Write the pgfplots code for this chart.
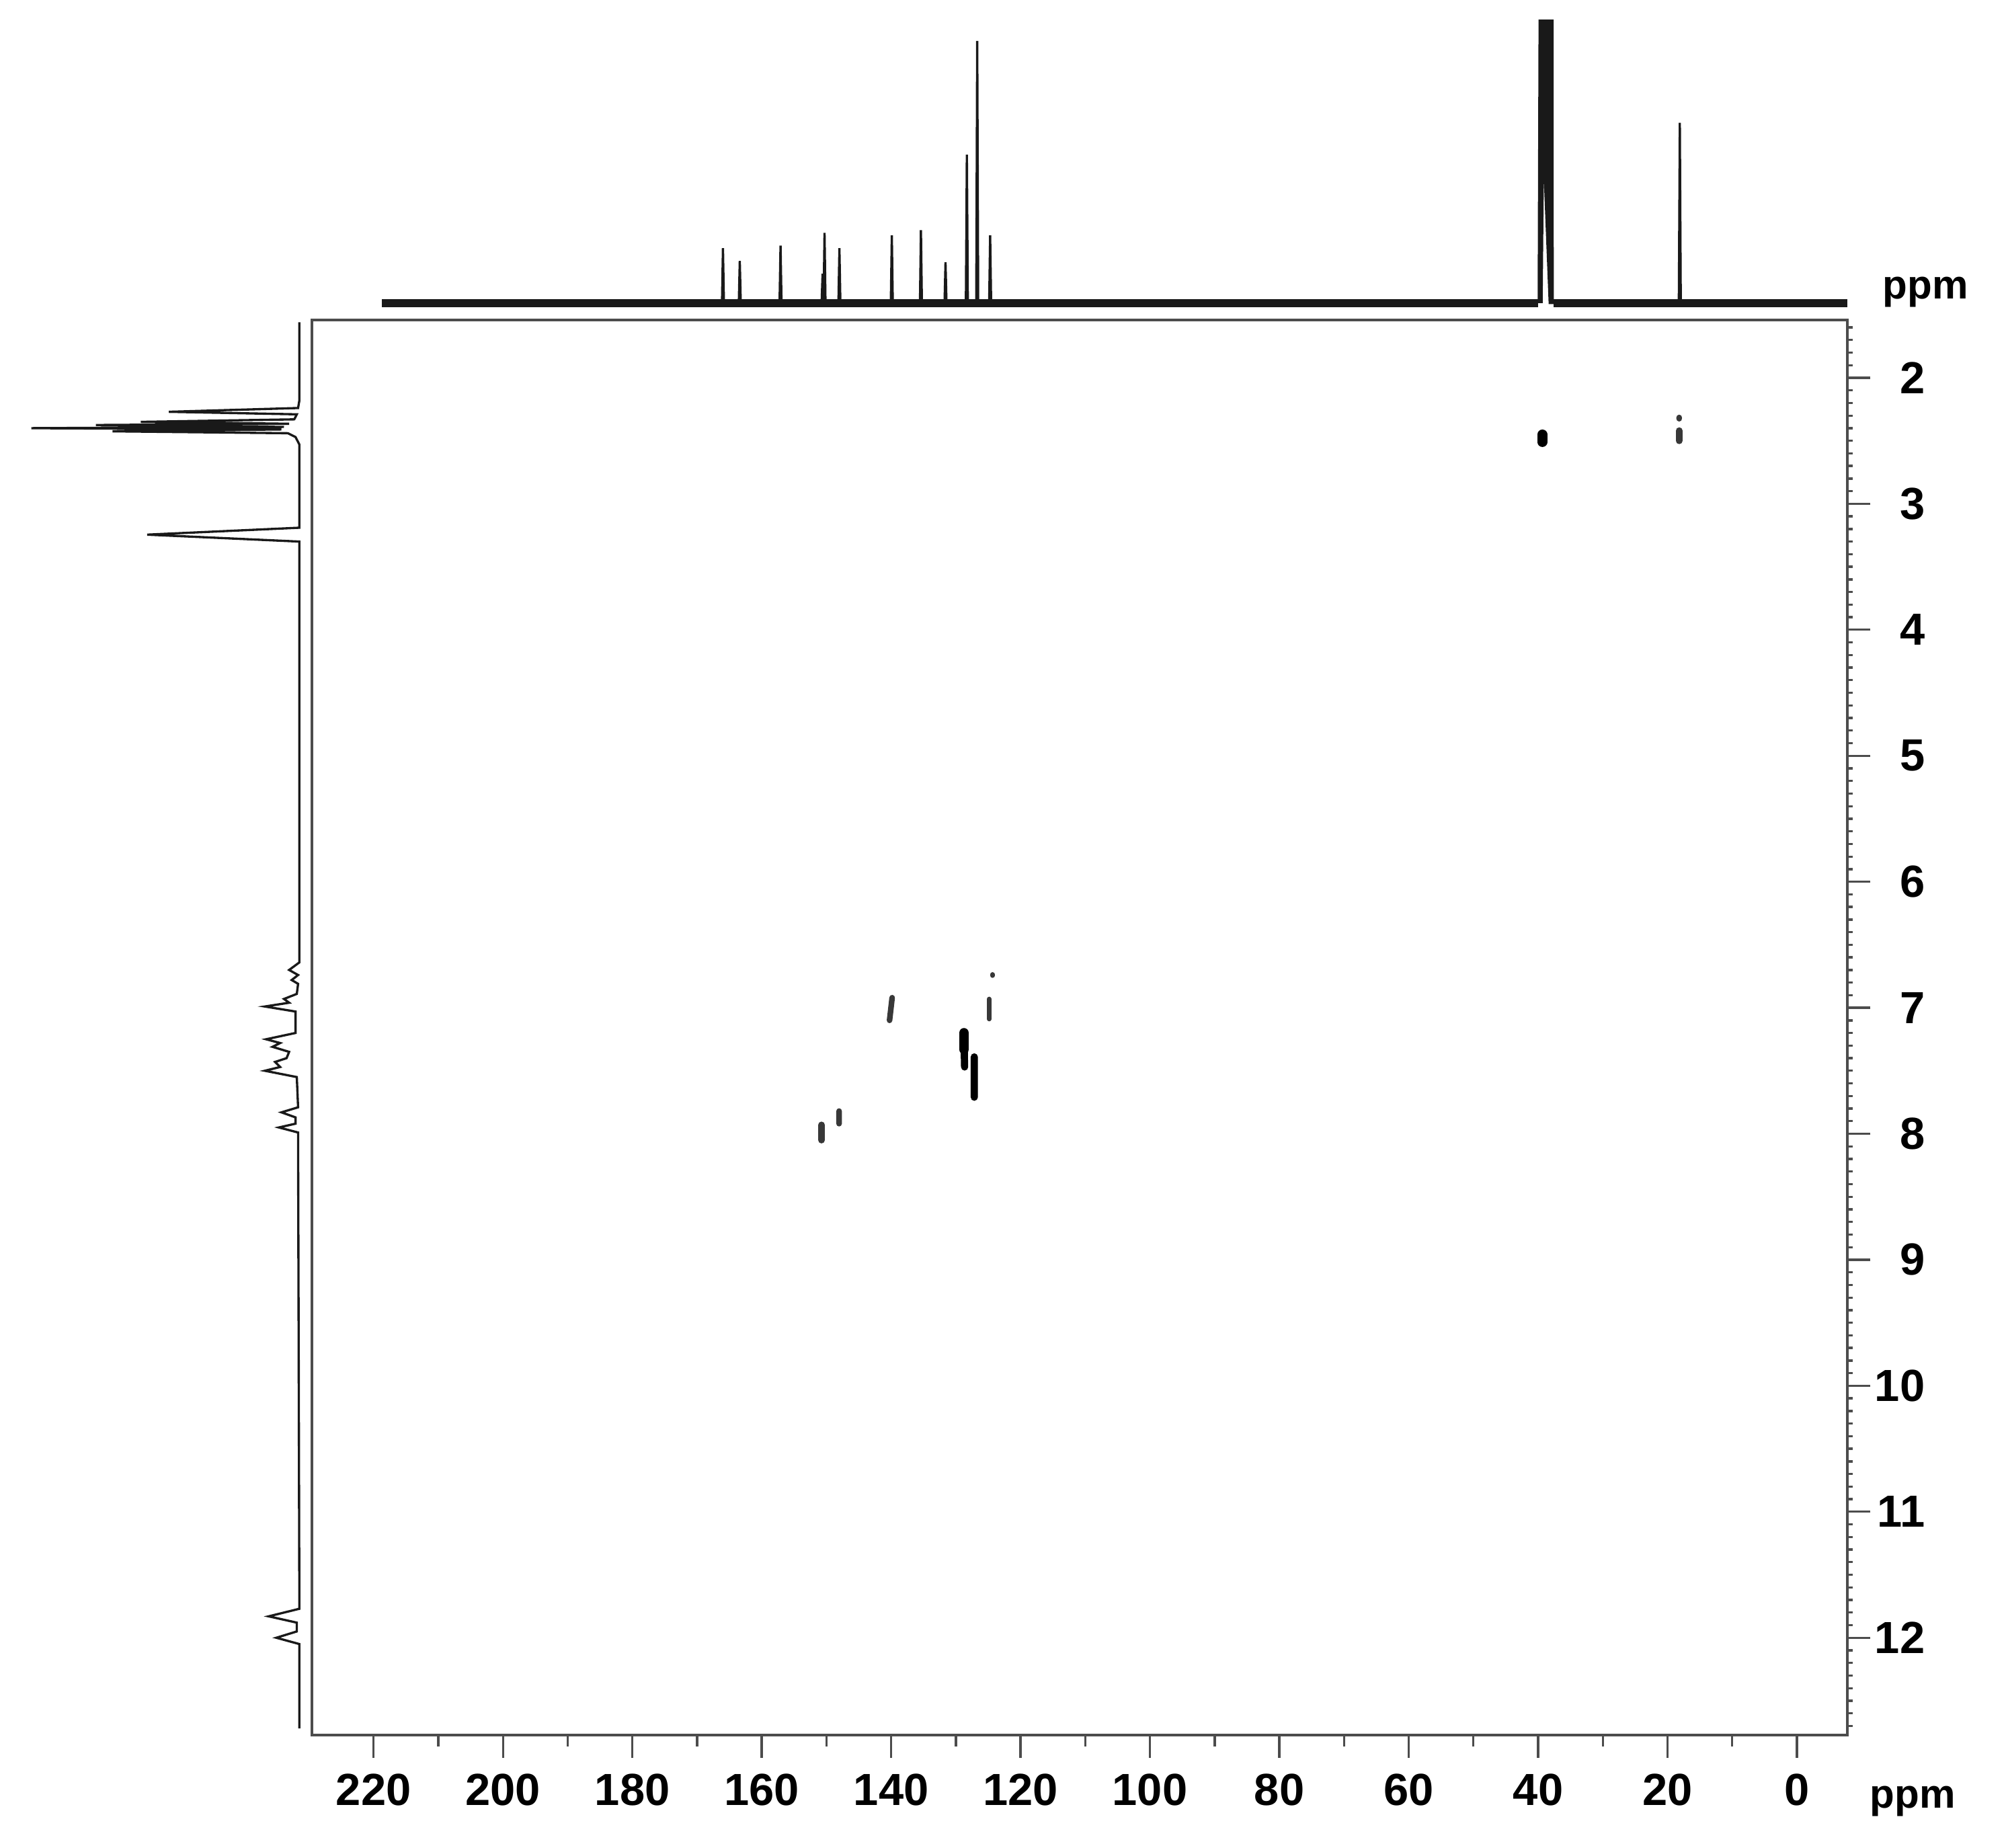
\documentclass[border=0pt]{standalone}
\usepackage{fontspec}
\setmainfont{Liberation Sans}
\usepackage{pgfplots}
\pgfplotsset{compat=1.18}

\definecolor{SpecGray}{gray}{0.10}
\definecolor{FrameGray}{gray}{0.30}
\definecolor{PeakGray}{gray}{0.22}

\begin{document}
\begin{tikzpicture}
% ---- main 2D (HSQC) panel ----
\begin{axis}[
  name=main,
  scale only axis,
  width=12cm, height=11.06cm,
  x dir=reverse, y dir=reverse,
  xmin=-7.8, xmax=229.5,
  ymin=1.54, ymax=12.77,
  axis line style={FrameGray, line width=0.6pt},
  xtick={0,20,...,220},
  extra x ticks={10,30,...,210},
  extra x tick labels={},
  extra x tick style={major tick length=0.09cm},
  ytick={2,...,12},
  minor ytick={1.6,1.7,...,12.75},
  xtick pos=left, ytick pos=right,
  yticklabel pos=right,
  tick align=outside,
  major tick length=0.18cm,
  minor tick length=0.04cm,
  tick style={FrameGray, line width=0.5pt},
  tick label style={font=\fontsize{10}{12}\selectfont\bfseries},
  /pgf/number format/assume math mode=true,
  yticklabel style={anchor=east, xshift=0.55cm},
  clip=false,
  unbounded coords=jump,
]
% cross peaks, drawn as short rounded strokes
\addplot[black, line width=2.2pt, line cap=round, mark=none]
  coordinates {(128.75,7.20) (128.75,7.33) (nan,nan) (39.35,2.45) (39.35,2.51)};
\addplot[black, line width=1.6pt, line cap=round, mark=none]
  coordinates {(128.70,7.35) (128.65,7.47) (nan,nan) (127.15,7.39) (127.15,7.71)};
\addplot[PeakGray, line width=1.5pt, line cap=round, mark=none]
  coordinates {(150.75,7.93) (150.75,8.05) (nan,nan) (18.2,2.42) (18.2,2.50)};
\addplot[PeakGray, line width=1.25pt, line cap=round, mark=none]
  coordinates {(139.85,6.92) (140.25,7.10) (nan,nan) (148.05,7.82) (148.05,7.92)
               (nan,nan) (18.2,2.315) (18.2,2.325)};
\addplot[PeakGray, line width=1.0pt, line cap=round, mark=none]
  coordinates {(124.35,6.735) (124.35,6.745) (nan,nan) (124.85,6.93) (124.85,7.09)};
\end{axis}

% ---- 13C projection on top ----
\begin{axis}[
  at={(main.north west)}, anchor=south west,
  scale only axis, width=12cm, height=2.5cm,
  x dir=reverse, xmin=-7.8, xmax=229.5,
  ymin=0, ymax=250,
  axis lines=none, clip=false,
  unbounded coords=jump,
]
\addplot[SpecGray, line width=1.8pt, mark=none]
  coordinates {(218.7,13) (40.0,13) (nan,nan) (37.6,13) (-7.8,13)};
\addplot[SpecGray, line width=0.5pt, mark=none] coordinates {
  (166.15,13) (166.0,56) (165.85,13) (nan,nan)
  (163.55,13) (163.4,46) (163.25,13) (nan,nan)
  (157.25,13) (157.1,58) (156.95,13) (nan,nan)
  (150.75,13) (150.6,36) (150.45,13) (nan,nan)
  (150.45,13) (150.3,68) (150.15,13) (nan,nan)
  (148.15,13) (148.0,56) (147.85,13) (nan,nan)
  (140.05,13) (139.9,66) (139.75,13) (nan,nan)
  (135.55,13) (135.4,70) (135.25,13) (nan,nan)
  (131.75,13) (131.6,45) (131.45,13) (nan,nan)
  (128.45,13) (128.3,129) (128.15,13) (nan,nan)
  (126.85,13) (126.7,218) (126.55,13) (nan,nan)
  (124.85,13) (124.7,66) (124.55,13) (nan,nan)
  (18.25,13) (18.1,154) (17.95,13)
};
\addplot[fill=SpecGray, draw=SpecGray, line width=0.4pt, mark=none] coordinates {
  (39.94,13) (39.80,234) (37.75,234) (37.72,13) (38.24,13) (39.2,138) (39.44,13)
};
\end{axis}

% ---- 1H projection on the left ----
\begin{axis}[
  at={(main.north west)}, anchor=north east,
  scale only axis, width=2.44cm, height=11.06cm,
  xmin=0, xmax=244,
  y dir=reverse, ymin=1.54, ymax=12.77,
  axis lines=none, clip=false,
]
\addplot[SpecGray, line width=0.5pt, mark=none] coordinates {
  (234,1.56) (234,2.18) (233,2.24) (132,2.27) (232,2.29) (230,2.33) (110,2.35)
  (226,2.365) (75,2.375) (222,2.39) (24.5,2.40) (220,2.41) (88,2.425) (225,2.44)
  (231,2.47) (234,2.53)
  (234,3.19) (115,3.245) (234,3.30)
  (234,6.64) (226,6.70) (233,6.74) (228,6.78) (233,6.81) (232,6.89) (222,6.93)
  (226,6.96) (207,6.99) (231,7.03) (231,7.20) (208,7.25) (219,7.28) (213,7.31)
  (226,7.35) (224,7.40) (215,7.43) (219,7.47) (207,7.50) (232,7.55)
  (233,7.79) (220,7.83) (231,7.87) (231,7.92) (218,7.95) (233,7.99)
  (234,11.77) (210,11.83) (232,11.88) (232,11.95) (216,12.00) (234,12.05)
  (234,12.72)
};
\end{axis}

\node[anchor=base west, inner sep=0pt, font=\fontsize{9}{11}\selectfont\bfseries]
  at ([xshift=0.27cm, yshift=0.165cm]main.north east) {ppm};
\node[anchor=base west, inner sep=0pt, font=\fontsize{9}{11}\selectfont\bfseries]
  at ([xshift=0.17cm, yshift=-0.57cm]main.south east) {ppm};
\path ([xshift=-2.44cm, yshift=2.5cm]main.north west)
  rectangle ([xshift=1.24cm, yshift=-0.88cm]main.south east);
\end{tikzpicture}
\end{document}
